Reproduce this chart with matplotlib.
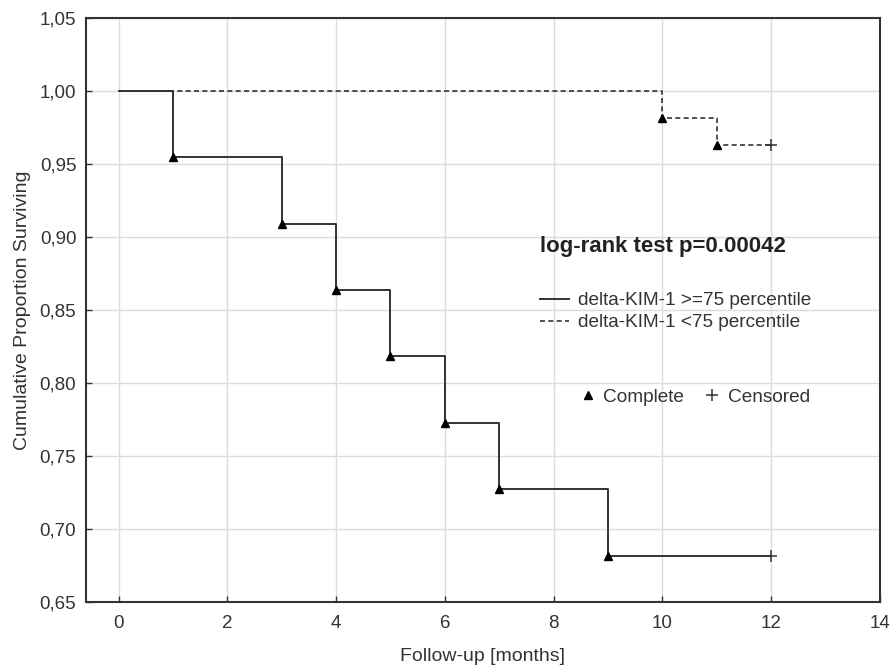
import matplotlib
matplotlib.use("Agg")
import matplotlib.pyplot as plt
from matplotlib.lines import Line2D
from matplotlib.ticker import FuncFormatter

plt.rcParams['font.family'] = ['Liberation Sans', 'DejaVu Sans']

# high delta-KIM-1 group (>=75 percentile)
hi_t = [0, 1, 3, 4, 5, 6, 7, 9, 12]
hi_s = [1.0, 0.9545, 0.9091, 0.8636, 0.8182, 0.7727, 0.7273, 0.6818, 0.6818]
hi_event_t = [1, 3, 4, 5, 6, 7, 9]
hi_event_s = [0.9545, 0.9091, 0.8636, 0.8182, 0.7727, 0.7273, 0.6818]
hi_cens_t = [12]
hi_cens_s = [0.6818]

# low delta-KIM-1 group (<75 percentile)
lo_t = [0, 10, 11, 12]
lo_s = [1.0, 0.9815, 0.9630, 0.9630]
lo_event_t = [10, 11]
lo_event_s = [0.9815, 0.9630]
lo_cens_t = [12]
lo_cens_s = [0.9630]

c = '#333333'
fig = plt.figure(figsize=(8.93, 6.68), dpi=100)
ax = fig.add_axes([0.0963, 0.0988, 0.889, 0.8742])

ax.step(hi_t, hi_s, where='post', color=c, lw=1.4)
ax.step(lo_t, lo_s, where='post', color=c, lw=1.2, ls=(0, (3, 2)))
ax.plot(hi_event_t, hi_event_s, '^', color='black', ms=6)
ax.plot(lo_event_t, lo_event_s, '^', color='black', ms=6)
ax.plot(hi_cens_t + lo_cens_t, hi_cens_s + lo_cens_s, '+', color=c, ms=9, mew=1.1)

ax.set_xlim(-0.6, 14)
ax.set_ylim(0.65, 1.05)
ax.set_xticks(range(0, 15, 2))
ax.set_yticks([0.65, 0.70, 0.75, 0.80, 0.85, 0.90, 0.95, 1.00, 1.05])
ax.yaxis.set_major_formatter(FuncFormatter(lambda v, p: f"{v:.2f}".replace('.', ',')))
ax.grid(True, color='#dcdcdc', lw=1)
ax.set_axisbelow(True)
for s in ax.spines.values():
    s.set_color('#333333')
    s.set_linewidth(1.5)
ax.tick_params(colors='#333333', labelsize=13.5, length=4, width=1, direction='in', pad=7)
ax.tick_params(axis='x', pad=9)
ax.set_xlabel('Follow-up [months]', fontsize=14, color='#333333', labelpad=12)
ax.set_ylabel('Cumulative Proportion Surviving', fontsize=14, color='#333333', labelpad=6)

ax.text(0.572, 0.608, 'log-rank test p=0.00042', transform=ax.transAxes,
        fontsize=16, fontweight='bold', color='#222222', va='center')

h1 = [Line2D([], [], color=c, lw=1.4), Line2D([], [], color=c, lw=1.2, ls=(0, (3, 2)))]
leg1 = ax.legend(h1, ['delta-KIM-1 >=75 percentile', 'delta-KIM-1 <75 percentile'],
                 loc='upper left', bbox_to_anchor=(0.572, 0.531), frameon=False,
                 fontsize=13.7, handlelength=1.5, handletextpad=0.5, labelspacing=0.25,
                 borderpad=0, borderaxespad=0, labelcolor='#333333')
ax.add_artist(leg1)
h2 = [Line2D([], [], marker='^', color='black', ls='none', ms=6),
      Line2D([], [], marker='+', color=c, ls='none', ms=9, mew=1.1)]
ax.legend(h2, ['Complete', 'Censored'], loc='upper left', bbox_to_anchor=(0.62, 0.366),
          frameon=False, fontsize=13.7, ncol=2, handlelength=1, handletextpad=0.3,
          columnspacing=1.0, borderpad=0, borderaxespad=0, labelcolor='#333333')

fig.savefig('out.png', dpi=100)
